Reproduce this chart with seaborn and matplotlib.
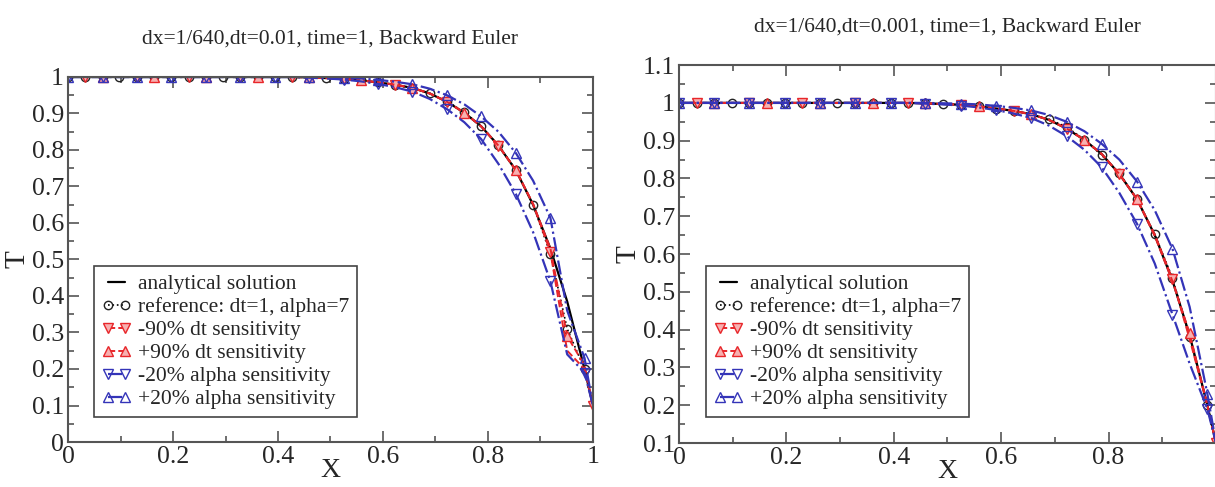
import numpy as np
import pandas as pd
import matplotlib
matplotlib.use('Agg')
import matplotlib.pyplot as plt
import seaborn as sns
from matplotlib.ticker import MultipleLocator, FormatStrFormatter, FixedLocator

# grid of x positions (reference solution markers every 21 cells, last point x=1)
x = [0, 0.033, 0.066, 0.098, 0.131, 0.164, 0.197, 0.23, 0.262, 0.295, 0.328,
     0.361, 0.394, 0.426, 0.459, 0.492, 0.525, 0.558, 0.591, 0.623, 0.656,
     0.689, 0.722, 0.755, 0.787, 0.82, 0.853, 0.886, 0.919, 0.951, 0.984, 1.0]

flat = [1.0] * 14

analytical = flat + [0.999, 0.997, 0.995, 0.991, 0.985, 0.979, 0.97, 0.955, 0.932,
                     0.902, 0.865, 0.812, 0.745, 0.65, 0.53, 0.385, 0.2, 0.1]

# left panel: dt=0.01
ref_l = flat + [0.999, 0.997, 0.995, 0.991, 0.985, 0.978, 0.969, 0.955, 0.934,
                0.903, 0.865, 0.813, 0.746, 0.65, 0.515, 0.31, 0.2, 0.1]
dtm_l = flat + [0.999, 0.997, 0.995, 0.991, 0.985, 0.979, 0.97, 0.955, 0.932,
                0.902, 0.865, 0.812, 0.745, 0.652, 0.52, 0.25, 0.2, 0.1]
dtp_l = flat + [0.999, 0.997, 0.995, 0.991, 0.985, 0.979, 0.97, 0.955, 0.932,
                0.902, 0.865, 0.812, 0.745, 0.652, 0.53, 0.29, 0.21, 0.1]
alm_l = flat + [0.998, 0.996, 0.993, 0.988, 0.981, 0.972, 0.96, 0.94, 0.912,
                0.876, 0.83, 0.762, 0.68, 0.575, 0.44, 0.24, 0.19, 0.1]
alp_l = flat + [1.0, 0.999, 0.998, 0.996, 0.992, 0.987, 0.98, 0.968, 0.95,
                0.925, 0.892, 0.85, 0.792, 0.716, 0.614, 0.36, 0.23, 0.1]

# right panel: dt=0.001
ref_r = flat + [0.999, 0.997, 0.995, 0.991, 0.985, 0.978, 0.969, 0.957, 0.936,
                0.903, 0.862, 0.814, 0.745, 0.652, 0.537, 0.38, 0.2, 0.1]
dtm_r = flat + [0.999, 0.997, 0.995, 0.991, 0.985, 0.979, 0.97, 0.955, 0.932,
                0.902, 0.865, 0.812, 0.745, 0.652, 0.533, 0.375, 0.2, 0.1]
dtp_r = flat + [0.999, 0.997, 0.995, 0.991, 0.985, 0.979, 0.97, 0.955, 0.932,
                0.902, 0.865, 0.812, 0.745, 0.648, 0.528, 0.39, 0.2, 0.1]
alm_r = flat + [0.998, 0.996, 0.993, 0.988, 0.981, 0.972, 0.96, 0.94, 0.912,
                0.876, 0.83, 0.762, 0.68, 0.575, 0.44, 0.31, 0.19, 0.1]
alp_r = flat + [1.0, 0.999, 0.998, 0.996, 0.992, 0.987, 0.98, 0.968, 0.95,
                0.925, 0.892, 0.85, 0.792, 0.716, 0.614, 0.46, 0.23, 0.1]

labels = ['analytical solution', 'reference: dt=1, alpha=7', '-90% dt sensitivity',
          '+90% dt sensitivity', '-20% alpha sensitivity', '+20% alpha sensitivity']

sns.set_theme(style='ticks')
plt.rcParams['font.family'] = ['Liberation Serif', 'DejaVu Serif']

RED = '#e8262a'
BLUE = '#3434b8'
styles = [
    dict(color='black', linestyle='-', linewidth=1.6),
    dict(color='black', linestyle=':', linewidth=1.2, marker='o', markersize=6,
         markerfacecolor='none', markeredgecolor='#222222', markeredgewidth=1.0,
         markevery=slice(0, 31)),
    dict(color=RED, linestyle='--', linewidth=1.4, marker='v', markersize=7,
         markerfacecolor='#f7b0b0', markeredgecolor=RED, markeredgewidth=1.0,
         markevery=(1, 3)),
    dict(color=RED, linestyle='--', linewidth=1.4, marker='^', markersize=7,
         markerfacecolor='#f7b0b0', markeredgecolor=RED, markeredgewidth=1.0,
         markevery=(2, 3)),
    dict(color=BLUE, linestyle='-.', linewidth=1.6, marker='v', markersize=7,
         markerfacecolor='none', markeredgecolor=BLUE, markeredgewidth=1.0,
         markevery=(0, 2)),
    dict(color=BLUE, linestyle='-.', linewidth=1.6, marker='^', markersize=7,
         markerfacecolor='none', markeredgecolor=BLUE, markeredgewidth=1.0,
         markevery=(0, 2)),
]

fig = plt.figure(figsize=(12.15, 4.87), dpi=100)
ax1 = fig.add_axes([0.056, 0.0924, 0.432, 0.7495])
ax2 = fig.add_axes([0.5588, 0.0903, 0.442, 0.776])

panels = [
    (ax1, [analytical, ref_l, dtm_l, dtp_l, alm_l, alp_l],
     'dx=1/640,dt=0.01, time=1, Backward Euler', (0, 1), 24,
     [0, 0.2, 0.4, 0.6, 0.8, 1.0], 0.0774),
    (ax2, [analytical, ref_r, dtm_r, dtp_r, alm_r, alp_r],
     'dx=1/640,dt=0.001, time=1, Backward Euler', (0.1, 1.1), 24,
     [0, 0.2, 0.4, 0.6, 0.8], 0.581),
]

for ax, series, title, ylim, pad, xt, legx in panels:
    for vals, lab, st in zip(series, labels, styles):
        sns.lineplot(x=x, y=vals, ax=ax, label=lab, sort=False, **st)
    ax.set_xlim(0, 1)
    ax.set_ylim(*ylim)
    ax.set_title(title, fontsize=15.5, pad=pad)
    ax.set_xlabel('X', fontsize=20, labelpad=-7)
    ax.set_ylabel('T', fontsize=21, labelpad=1)
    ax.xaxis.set_major_locator(FixedLocator(xt))
    ax.xaxis.set_minor_locator(MultipleLocator(0.1))
    ax.yaxis.set_major_locator(MultipleLocator(0.1))
    ax.yaxis.set_minor_locator(MultipleLocator(0.05))
    ax.xaxis.set_major_formatter(FormatStrFormatter('%g'))
    ax.yaxis.set_major_formatter(FormatStrFormatter('%g'))
    ax.tick_params(which='both', direction='in', top=True, right=True,
                   labelsize=18.5, color='#555555', width=1.2)
    ax.tick_params(which='major', length=8, pad=3)
    ax.tick_params(which='minor', length=4)
    for sp in ax.spines.values():
        sp.set_color('#555555')
        sp.set_linewidth(1.5)
    leg = ax.legend(loc='lower left', bbox_to_anchor=(legx, 0.1437),
                    bbox_transform=fig.transFigure, fontsize=15.5, numpoints=2,
                    handlelength=1.4, handletextpad=0.3, labelspacing=0.14,
                    borderpad=0.35, fancybox=False, framealpha=1,
                    edgecolor='#444444', borderaxespad=0)
    leg.get_frame().set_linewidth(1.2)

fig.savefig('out.png', dpi=100)
